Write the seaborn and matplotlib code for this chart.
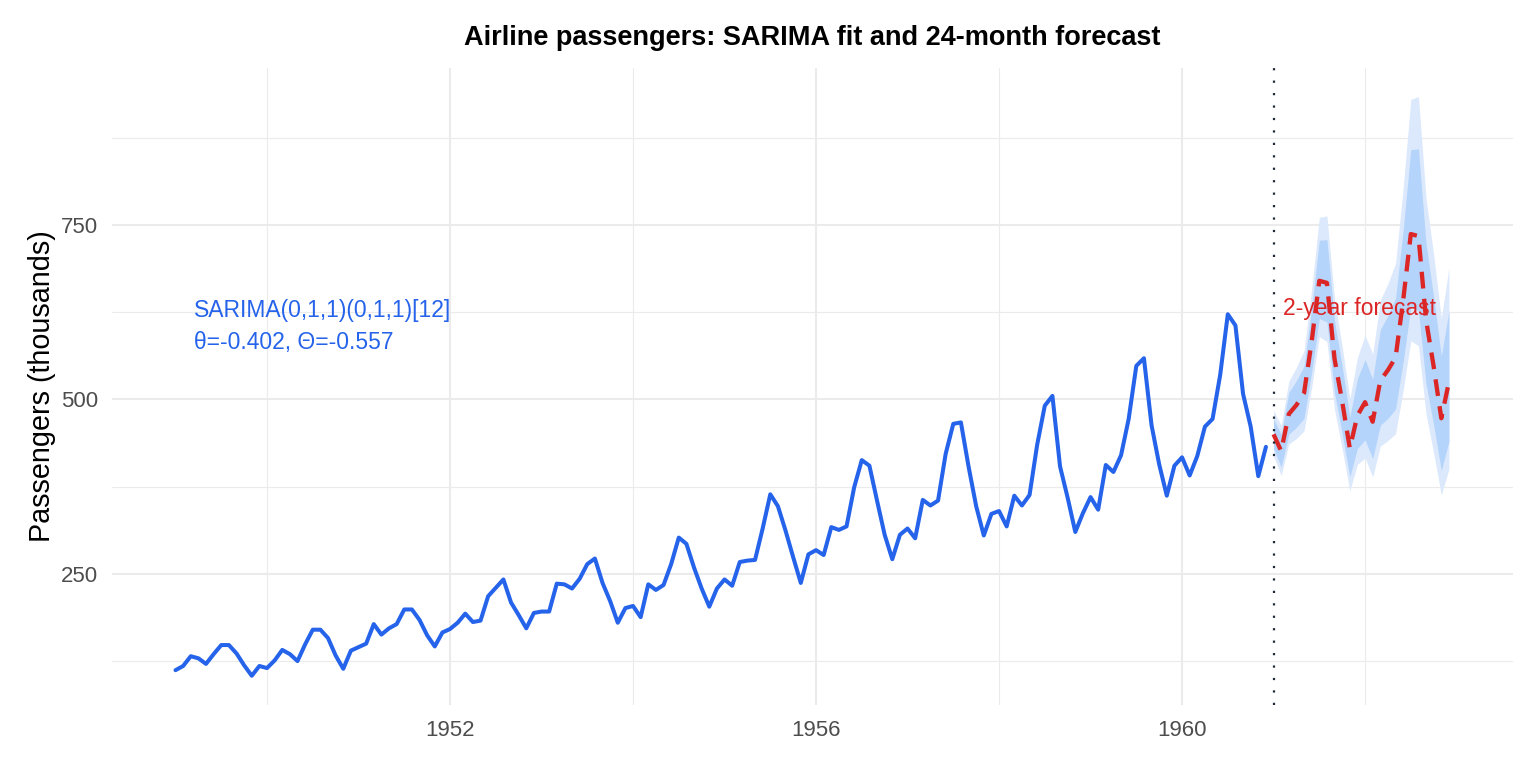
import numpy as np
import pandas as pd
import seaborn as sns
import matplotlib.pyplot as plt

# monthly airline passengers 1949-1960 (thousands)
passengers = [
    112, 118, 132, 129, 121, 135, 148, 148, 136, 119, 104, 118,
    115, 126, 141, 135, 125, 149, 170, 170, 158, 133, 114, 140,
    145, 150, 178, 163, 172, 178, 199, 199, 184, 162, 146, 166,
    171, 180, 193, 181, 183, 218, 230, 242, 209, 191, 172, 194,
    196, 196, 236, 235, 229, 243, 264, 272, 237, 211, 180, 201,
    204, 188, 235, 227, 234, 264, 302, 293, 259, 229, 203, 229,
    242, 233, 267, 269, 270, 315, 364, 347, 312, 274, 237, 278,
    284, 277, 317, 313, 318, 374, 413, 405, 355, 306, 271, 306,
    315, 301, 356, 348, 355, 422, 465, 467, 404, 347, 305, 336,
    340, 318, 362, 348, 363, 435, 491, 505, 404, 359, 310, 337,
    360, 342, 406, 396, 420, 472, 548, 559, 463, 407, 362, 405,
    417, 391, 419, 461, 472, 535, 622, 606, 508, 461, 390, 432,
]

# 24-month forecast 1961-1962 with 80% / 95% intervals
fc_mean = [450, 426, 479, 492, 509, 583, 670, 667, 558, 497, 430, 477,
           496, 468, 527, 542, 560, 642, 737, 734, 614, 547, 473, 525]
fc_lo80 = [430, 403, 450, 460, 473, 539, 616, 611, 509, 451, 389, 430,
           442, 415, 463, 473, 486, 554, 633, 627, 522, 463, 398, 440]
fc_hi80 = [472, 450, 510, 527, 548, 631, 728, 729, 612, 548, 475, 530,
           557, 529, 600, 620, 645, 743, 858, 859, 723, 647, 562, 627]
fc_lo95 = [419, 391, 436, 444, 455, 517, 590, 583, 485, 429, 369, 407,
           416, 389, 433, 441, 451, 513, 584, 577, 479, 423, 363, 400]
fc_hi95 = [484, 463, 526, 546, 570, 658, 761, 763, 643, 576, 501, 560,
           592, 565, 642, 666, 695, 803, 930, 934, 788, 707, 616, 689]

hist = pd.DataFrame({"t": 1949 + np.arange(len(passengers)) / 12,
                     "passengers": passengers})
fc = pd.DataFrame({"t": 1961 + np.arange(len(fc_mean)) / 12,
                   "mean": fc_mean, "lo80": fc_lo80, "hi80": fc_hi80,
                   "lo95": fc_lo95, "hi95": fc_hi95})

sns.set_theme(style="whitegrid")
plt.rcParams["font.family"] = ["Liberation Sans", "DejaVu Sans"]

blue = "#2563eb"
red = "#dc2626"

fig = plt.figure(figsize=(15.36, 7.68), dpi=100)
ax = fig.add_axes([0.0728, 0.0824, 0.9120, 0.8296])

ax.fill_between(fc["t"], fc["lo95"], fc["hi95"], color="#dce9fc", lw=0, zorder=1)
ax.fill_between(fc["t"], fc["lo80"], fc["hi80"], color="#b4d4fb", lw=0, zorder=2)

sns.lineplot(data=hist, x="t", y="passengers", color=blue, lw=2.9, ax=ax, zorder=3)
sns.lineplot(data=fc, x="t", y="mean", color=red, lw=3.1, ax=ax, zorder=4,
             linestyle=(0, (3.9, 2.4)))

ax.axvline(1961, color="#1f2937", lw=1.6, linestyle=(0, (1, 4.6)), zorder=5)

ax.text(1949.2, 627, "SARIMA(0,1,1)(0,1,1)[12]", color=blue, fontsize=16.5,
        va="center", ha="left")
ax.text(1949.2, 581, "θ=-0.402, Θ=-0.557", color=blue, fontsize=16.5,
        va="center", ha="left")
ax.text(1961.1, 630, "2-year forecast", color=red, fontsize=16.5,
        va="center", ha="left", zorder=6)

ax.set_xlim(1948.304, 1963.613)
ax.set_ylim(62.5, 975.5)
ax.set_xticks([1952, 1956, 1960])
ax.set_xticks([1950, 1954, 1958, 1962], minor=True)
ax.set_yticks([250, 500, 750])
ax.set_yticks([125, 375, 625, 875], minor=True)
ax.grid(which="major", color="#ebebeb", lw=1.5)
ax.grid(which="minor", color="#ebebeb", lw=0.8)
ax.tick_params(which="both", length=0, labelsize=16, labelcolor="#4d4d4d")
ax.tick_params(axis="x", pad=11)
ax.tick_params(axis="y", pad=10)
for s in ax.spines.values():
    s.set_visible(False)

ax.set_xlabel("")
ax.set_ylabel("Passengers (thousands)", fontsize=20.7, color="black")
ax.yaxis.set_label_coords(-0.040, 0.5)
fig.text(0.5286, 1 - 38 / 768, "Airline passengers: SARIMA fit and 24-month forecast",
         fontsize=19.5, fontweight="bold", color="black", ha="center", va="center")

fig.savefig("out.png", dpi=100)
